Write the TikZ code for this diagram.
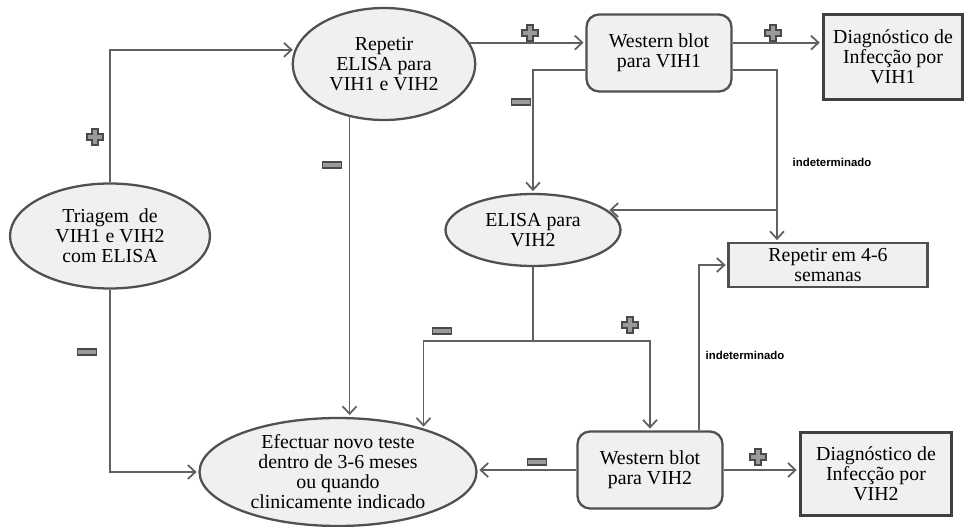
\documentclass[tikz,border=0pt]{standalone}
\usepackage{fontspec}
\setmainfont{Liberation Serif}
\newfontfamily\notefont{Liberation Sans}
\usetikzlibrary{shapes.geometric,arrows.meta}
\definecolor{shapefill}{HTML}{F0F0F0}
\definecolor{shapeline}{HTML}{505050}
\definecolor{wirecol}{HTML}{606060}
\definecolor{signfill}{HTML}{9A9A9A}
\definecolor{signline}{HTML}{4A4A4A}

\begin{document}
\begin{tikzpicture}[x=0.02cm,y=-0.02cm,
                    font=\fontsize{11.3}{11.4}\selectfont,
                    every node/.style={align=center,inner sep=0pt},
                    test/.style={ellipse,draw=shapeline,fill=shapefill,line width=1.3pt},
                    blot/.style={rectangle,rounded corners=0.25cm,draw=shapeline,fill=shapefill,line width=1.3pt,minimum width=2.9cm,minimum height=1.54cm},
                    result/.style={rectangle,draw=black!75,fill=shapefill,line width=1.7pt},
                    wire/.style={draw=wirecol,line width=1pt},
                    arr/.style={wire,-{Straight Barb[length=1.5mm,width=2.8mm]},shorten >=1pt},
                    note/.style={font=\notefont\bfseries\fontsize{6.5}{7}\selectfont},
                    minussign/.style={rectangle,draw=signline,fill=signfill,line width=0.9pt,minimum width=0.38cm,minimum height=0.13cm},
                    plussign/.style={minimum size=0.42cm,
                        path picture={\filldraw[draw=signline,fill=signfill,line width=0.9pt]
                            (path picture bounding box.center) ++(-0.06cm,-0.165cm)
                            -- ++(0.12cm,0) -- ++(0,0.105cm) -- ++(0.105cm,0) -- ++(0,0.12cm)
                            -- ++(-0.105cm,0) -- ++(0,0.105cm) -- ++(-0.12cm,0) -- ++(0,-0.105cm)
                            -- ++(-0.105cm,0) -- ++(0,-0.12cm) -- ++(0.105cm,0) -- cycle;}}
]
\useasboundingbox (0,0) rectangle (965,527);

\node [test,minimum width=4cm,minimum height=2.1cm] at (110,236) (triage) {Triagem \ de\\VIH1 e VIH2\\com ELISA};
\node [test,minimum width=3.65cm,minimum height=2.24cm] at (384,64) (elisa1) {Repetir\\ELISA para\\VIH1 e VIH2};
\node [blot] at (659,53) (wb1) {Western blot\\para VIH1};
\node [result,minimum width=2.8cm,minimum height=1.7cm] at (893,57) (diag1) {Diagnóstico de\\Infecção por\\VIH1};
\node [test,minimum width=3.5cm,minimum height=1.44cm] at (533,230) (elisa2) {ELISA para\\VIH2};
\node [result,line width=1.3pt,draw=shapeline,minimum width=3.98cm,minimum height=0.88cm] at (828,265) (rep) {Repetir em 4-6\\semanas};
\node [test,minimum width=5.54cm,minimum height=2.16cm] at (338,472) (retest) {Efectuar novo teste\\dentro de 3-6 meses\\ou quando\\clinicamente indicado};
\node [blot] at (650,470) (wb2) {Western blot\\para VIH2};
\node [result,minimum width=3.04cm,minimum height=1.68cm] at (876,474) (diag2) {Diagnóstico de\\Infecção por\\VIH2};

\coordinate (split) at (777,210);
\coordinate (fork) at (533,341);

\draw [arr] (triage.north) |- (elisa1.171);
\draw [arr] (triage.south) |- (retest.west);
\draw [arr] (elisa1.237) -- (elisa1.237 |- retest.north);
\draw [arr] (elisa1.14) -- (elisa1.14 -| wb1.west);
\draw [arr] (wb1.8) -- (wb1.8 -| diag1.west);
\draw [arr] (wb1.193) -| (elisa2.north);
\draw [wire] (wb1.-13) -| (split);
\draw [arr] (split) -- (split |- rep.north);
\draw [arr] (split) -- (split -| elisa2.15);
\draw [wire] (elisa2.south) -- (fork);
\draw [arr] (fork) -| (retest.27);
\draw [arr] (fork) -| (wb2.north);
\draw [arr] (wb2.39) |- (rep.west);
\draw [arr] (wb2.west) -- (wb2.west -| retest.east);
\draw [arr] (wb2.east) -- (wb2.east -| diag2.west);
%
\node [note] at (832,162) (ind1) {indeterminado};
\node [note] at (745,355) (ind2) {indeterminado};

\node [plussign] at (95,137) (p1) {};
\node [plussign] at (530,33) (p2) {};
\node [plussign] at (773,33) (p3) {};
\node [plussign] at (630,325) (p4) {};
\node [plussign] at (758,457) (p5) {};
\node [minussign] at (87,352) (m1) {};
\node [minussign] at (332,165) (m2) {};
\node [minussign] at (521,102) (m3) {};
\node [minussign] at (442,331) (m4) {};
\node [minussign] at (537,462) (m5) {};

\end{tikzpicture}
\end{document}
